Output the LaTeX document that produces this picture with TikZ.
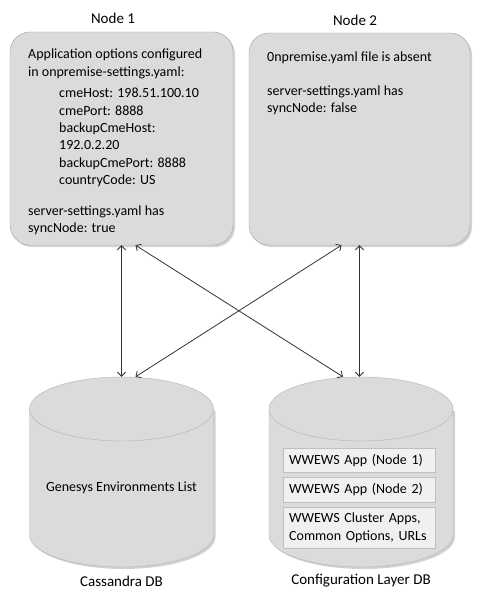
\documentclass[tikz,border=0pt]{standalone}
\usepackage{fontspec}
\setmainfont{Carlito}
\usetikzlibrary{shapes.geometric,shadows,arrows.meta}

\tikzset{
  srvbox/.style={draw=black!35, fill=black!14, rounded corners=20pt,
    minimum width=223pt, minimum height=213pt,
    drop shadow={shadow xshift=2pt, shadow yshift=-2pt, opacity=.35}},
  dbbody/.style={fill=black!14,
    drop shadow={shadow xshift=2pt, shadow yshift=-2pt, opacity=.35}},
  dbline/.style={draw=black!30},
  dbtop/.style={ellipse, draw=black!30, fill=black!14, inner sep=0pt,
    minimum width=184pt, minimum height=64pt},
  appbox/.style={draw=black!25, fill=black!6, minimum width=152pt,
    anchor=north west, inner xsep=6pt, align=left, text width=140pt},
  lbl/.style={font=\fontsize{14}{17.4}\selectfont},
  ttl/.style={font=\fontsize{15}{18}\selectfont},
  link/.style={{Straight Barb[length=4pt,width=8pt]}-{Straight Barb[length=4pt,width=8pt]},
    draw=black!80, line width=0.8pt}
}

\begin{document}
\begin{tikzpicture}[x=1pt,y=-1pt]
\useasboundingbox (0,0) rectangle (482,599);
\fill[white] (0,0) rectangle (482,599);
% the two nodes
\node[srvbox] (n1) at (121.5,138.5) {};
\node[srvbox, minimum width=221pt, minimum height=212pt] (n2) at (359.5,139) {};
\node[ttl] (t1) at (113,18) {Node 1};
\node[ttl] (t2) at (355,20) {Node 2};
\node[lbl, anchor=north west, align=left, inner sep=0pt] (opts1) at (28,49)
  {Application options configured\\
   in onpremise-settings.yaml:\\[4pt]
   \hspace*{31pt}cmeHost: 198.51.100.10\\
   \hspace*{31pt}cmePort: 8888\\
   \hspace*{31pt}backupCmeHost:\\
   \hspace*{31pt}192.0.2.20\\
   \hspace*{31pt}backupCmePort: 8888\\
   \hspace*{31pt}countryCode: US\\[13pt]
   server-settings.yaml has\\
   syncNode: true};
\node[lbl, anchor=north west, align=left, inner sep=0pt] (opts2) at (267,52)
  {0npremise.yaml file is absent\\[16pt]
   server-settings.yaml has\\
   syncNode: false};
% the two databases
\foreach \cx in {121.5,361} {
  \fill[dbbody] (\cx-92,409) -- (\cx-92,535)
    arc[start angle=180, end angle=0, x radius=92, y radius=32]
    -- (\cx+92,409) -- cycle;
  \draw[dbline] (\cx-92,409) -- (\cx-92,535)
    arc[start angle=180, end angle=0, x radius=92, y radius=32]
    -- (\cx+92,409);
}
\node[dbtop] (castop) at (121.5,409) {};
\node[dbtop] (cfgtop) at (361,409) {};
\node[lbl] (envs) at (121.5,488) {Genesys Environments List};
\node[appbox, lbl, minimum height=24pt] (app1) at (283,448) {WWEWS App (Node 1)};
\node[appbox, lbl, minimum height=25pt] (app2) at (283,477) {WWEWS App (Node 2)};
\node[appbox, lbl, minimum height=41pt] (apps) at (283,507)
  {WWEWS Cluster Apps,\\Common Options, URLs};
\node[ttl] (casdb) at (121.5,581) {Cassandra DB};
\node[ttl] (cfgdb) at (361,581) {Configuration Layer DB};
% links
\draw[link] (n1.south -| castop.north) -- (castop.north);
\draw[link] (n2.south) -- (n2.south |- cfgtop.north);
\draw[link] ([xshift=14pt]n1.south) -- ([xshift=-18pt]cfgtop.north);
\draw[link] ([xshift=-18pt]n2.south) -- ([xshift=14pt]castop.north);
\end{tikzpicture}
\end{document}
